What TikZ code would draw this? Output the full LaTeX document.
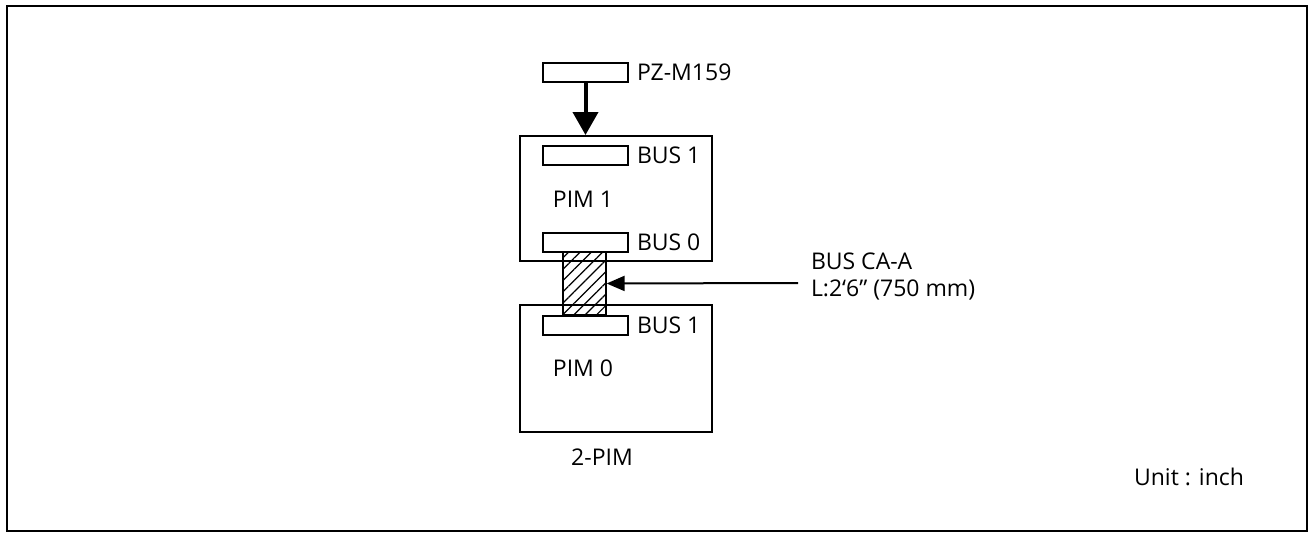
\documentclass[tikz,border=0pt]{standalone}
\usepackage{fontspec}
\setmainfont{Open Sans}
\usetikzlibrary{arrows.meta, positioning, patterns.meta}
\tikzset{
  every picture/.style={font=\fontsize{23}{27}\selectfont, line width=2pt},
  pimbox/.style={draw, minimum width=192pt, inner sep=0pt},
  conn/.style={draw, fill=white, minimum width=85pt, minimum height=19pt, inner sep=0pt},
  connlabel/.style={right=7pt of #1, inner sep=0pt},
  cable/.style={draw, fill=white, pattern={Lines[angle=45, distance=8pt, line width=1.2pt]},
    minimum width=43pt, minimum height=63pt, inner sep=0pt},
  arrow/.style={-{Triangle[length=18pt, width=15pt]}},
  bigarrow/.style={-{Triangle[length=23pt, width=25pt]}, line width=4pt},
  title/.style={inner sep=0pt},
}

\begin{document}
\begin{tikzpicture}[x=1pt, y=-1pt]
  \useasboundingbox (0,0) rectangle (1310,538);
  % outer frame
  \draw[line width=2.6pt] (7,6) rectangle (1307,531);
  % the two modules
  \node[pimbox, minimum height=125pt] (pim1) at (616,198.5) {};
  \node[pimbox, minimum height=127pt] (pim0) at (616,368.5) {};
  \node[title] (pim1lbl) at (583,199) {PIM 1};
  \node[title] (pim0lbl) at (583,368) {PIM 0};
  \node[title] (twopim) at (602,457) {2-PIM};
  % cable between the modules
  \node[cable] (cable) at (584.5,283.5) {};
  % bus connectors
  \node[conn] (pzm) at (585.5,72.5) {};
  \node[conn] (bus1a) at (585.5,155) {};
  \node[conn] (bus0) at (585.5,242) {};
  \node[conn] (bus1b) at (585.5,325) {};
  \node[connlabel=pzm] (pzmlbl) {PZ-M159};
  \node[connlabel=bus1a] (bus1albl) {BUS 1};
  \node[connlabel=bus0] (bus0lbl) {BUS 0};
  \node[connlabel=bus1b] (bus1blbl) {BUS 1};
  % arrows
  \draw[bigarrow] (pzm.south) -- (pim1.north -| pzm.south);
  \coordinate (castart) at (798,283);
  \draw[arrow] (castart) -- (cable.east);
  \node[title, anchor=west, align=left] (calbl) at (810,276) {BUS CA-A\\L:2‘6” (750 mm)};
  \node[title] (unit) at (1189,477) {Unit : inch};
\end{tikzpicture}
\end{document}
